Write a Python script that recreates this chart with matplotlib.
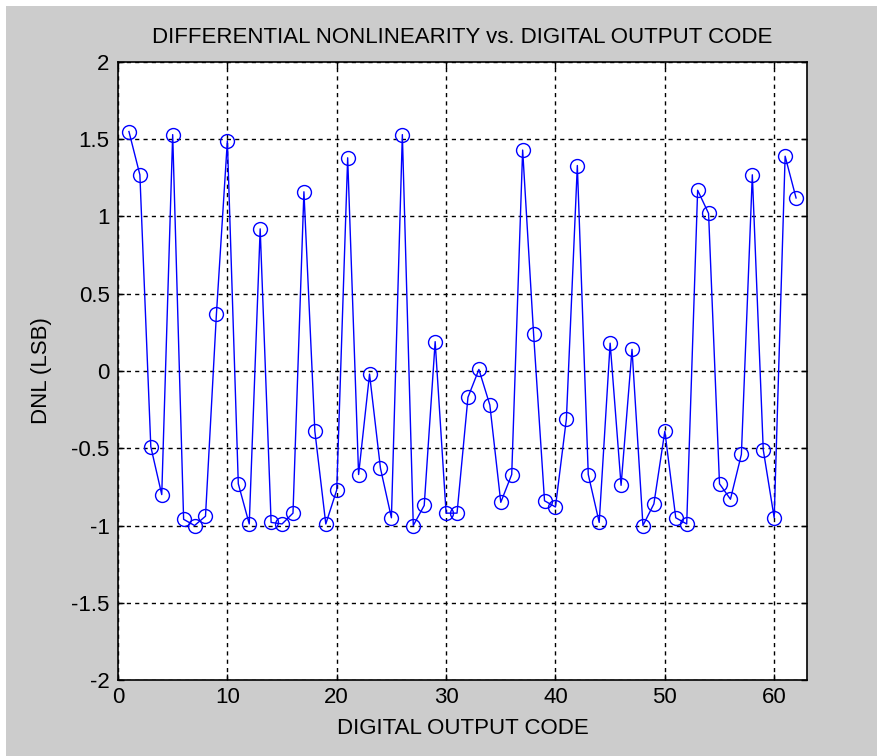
import matplotlib
matplotlib.use("Agg")
import matplotlib.pyplot as plt
from matplotlib.patches import Rectangle

# DNL per output code (LSB)
codes = list(range(1, 63))
dnl = [
    1.55, 1.27, -0.49, -0.80, 1.53, -0.96, -1.00, -0.94, 0.37, 1.49,
    -0.73, -0.99, 0.92, -0.98, -0.99, -0.92, 1.16, -0.39, -0.99, -0.77,
    1.38, -0.67, -0.02, -0.63, -0.95, 1.53, -1.00, -0.87, 0.19, -0.92,
    -0.92, -0.17, 0.01, -0.22, -0.85, -0.67, 1.43, 0.24, -0.84, -0.88,
    -0.31, 1.33, -0.67, -0.98, 0.18, -0.74, 0.14, -1.00, -0.86, -0.39,
    -0.95, -0.99, 1.17, 1.02, -0.73, -0.83, -0.54, 1.27, -0.51, -0.95,
    1.39, 1.12,
]

x_ticks = [0, 10, 20, 30, 40, 50, 60]
y_ticks = [-2, -1.5, -1, -0.5, 0, 0.5, 1, 1.5, 2]
y_tick_labels = ["-2", "-1.5", "-1", "-0.5", "0", "0.5", "1", "1.5", "2"]

plt.rcParams['font.family'] = ['Liberation Sans', 'DejaVu Sans']

W, H = 878, 756
fig = plt.figure(figsize=(W / 100, H / 100), dpi=100, facecolor='white')
# grey window panel
fig.patches.append(Rectangle((6 / W, 0), 1 - 6 / W, 1 - 6 / H,
                             transform=fig.transFigure, facecolor='#cccccc',
                             edgecolor='none', zorder=-1))

ax = fig.add_axes([118 / W, 1 - 680 / H, (807 - 118) / W, (680 - 62) / H])
ax.set_facecolor('white')

ax.plot(codes, dnl, color='#0000ff', linewidth=1.0, marker='o',
        markersize=10, markerfacecolor='none', markeredgecolor='#0000ff',
        markeredgewidth=1.0)

ax.set_xlim(0, 63)
ax.set_ylim(-2, 2)
ax.set_xticks(x_ticks)
ax.set_yticks(y_ticks)
ax.set_yticklabels(y_tick_labels)
ax.grid(True, color='black', linestyle=(0, (3, 3)), linewidth=1.0)
ax.tick_params(direction='in', length=4, width=1, colors='black',
               labelsize=16, top=True, right=True)
ax.tick_params(axis='x', pad=5)
ax.tick_params(axis='y', pad=6)
for s in ax.spines.values():
    s.set_color('black')
    s.set_linewidth(1.2)

ax.set_title('DIFFERENTIAL NONLINEARITY vs. DIGITAL OUTPUT CODE',
             fontsize=16, pad=14)
ax.set_xlabel('DIGITAL OUTPUT CODE', fontsize=16, labelpad=7)
ax.set_ylabel('DNL (LSB)', fontsize=16, labelpad=14)

fig.savefig('out.png', dpi=100, facecolor=fig.get_facecolor())
